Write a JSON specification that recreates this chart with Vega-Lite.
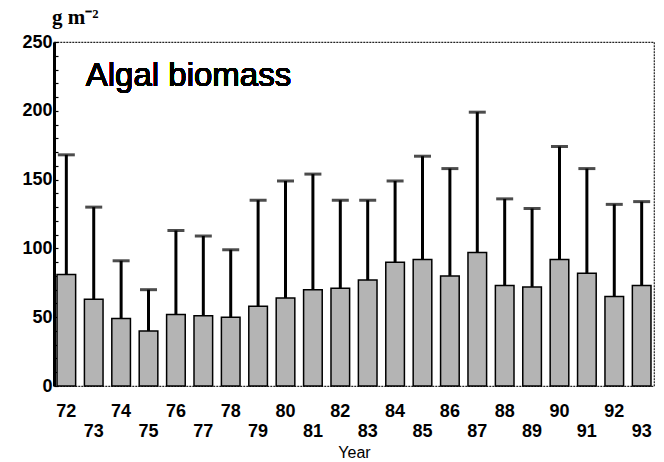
{
  "$schema": "https://vega.github.io/schema/vega-lite/v6.json",
  "width": 600,
  "height": 344,
  "autosize": "none",
  "padding": {"left": 54, "top": 42, "right": 10, "bottom": 76},
  "background": "white",
  "title": {"text": "g  m⁻²", "anchor": "start", "frame": "group", "font": "Liberation Serif", "fontSize": 21, "fontWeight": "bold", "offset": 5, "dx": -2, "color": "black"},
  "config": {
    "view": {"stroke": "#222", "strokeWidth": 1.2, "strokeDash": [2, 1]},
    "axisY": {
      "labelOverlap": false,
      "grid": false,
      "tickSize": -4,
      "tickWidth": 1.2,
      "tickColor": "black",
      "domainColor": "black",
      "domainWidth": 3,
      "labelFont": "Liberation Sans",
      "labelFontSize": 18,
      "labelFontWeight": "bold",
      "labelColor": "black",
      "labelPadding": 6,
      "title": null,
      "zindex": 1,
      "labelExpr": "datum.value % 50 == 0 ? datum.label : ''"
    }
  },
  "data": {"values": [
    {"year": 72, "mean": 81, "upper": 168},
    {"year": 73, "mean": 63, "upper": 130},
    {"year": 74, "mean": 49, "upper": 91},
    {"year": 75, "mean": 40, "upper": 70},
    {"year": 76, "mean": 52, "upper": 113},
    {"year": 77, "mean": 51, "upper": 109},
    {"year": 78, "mean": 50, "upper": 99},
    {"year": 79, "mean": 58, "upper": 135},
    {"year": 80, "mean": 64, "upper": 149},
    {"year": 81, "mean": 70, "upper": 154},
    {"year": 82, "mean": 71, "upper": 135},
    {"year": 83, "mean": 77, "upper": 135},
    {"year": 84, "mean": 90, "upper": 149},
    {"year": 85, "mean": 92, "upper": 167},
    {"year": 86, "mean": 80, "upper": 158},
    {"year": 87, "mean": 97, "upper": 199},
    {"year": 88, "mean": 73, "upper": 136},
    {"year": 89, "mean": 72, "upper": 129},
    {"year": 90, "mean": 92, "upper": 174},
    {"year": 91, "mean": 82, "upper": 158},
    {"year": 92, "mean": 65, "upper": 132},
    {"year": 93, "mean": 73, "upper": 134}
  ]},
  "encoding": {
    "x": {
      "field": "year",
      "type": "ordinal",
      "scale": {"paddingInner": 0.32, "paddingOuter": 0.11},
      "axis": {
        "title": "Year",
        "titleFont": "Liberation Sans",
        "titleFontSize": 16,
        "titleFontWeight": "normal",
        "titlePadding": 4,
        "labelAngle": 0,
        "labelFont": "Liberation Sans",
        "labelFontSize": 18,
        "labelFontWeight": "bold",
        "labelBaseline": "top",
        "labelPadding": 16,
        "labelLineHeight": 20,
        "labelExpr": "toNumber(datum.value) % 2 == 1 ? ['', datum.label] : datum.label",
        "ticks": false,
        "domain": false,
        "labelColor": "black",
        "titleColor": "black"
      }
    }
  },
  "layer": [
    {
      "mark": {"type": "bar", "fill": "#b4b4b4", "stroke": "black", "strokeWidth": 1.5},
      "encoding": {
        "y": {
          "field": "mean",
          "type": "quantitative",
          "scale": {"domain": [0, 250], "nice": false},
          "axis": {"values": [0, 10, 20, 30, 40, 50, 60, 70, 80, 90, 100, 110, 120, 130, 140, 150, 160, 170, 180, 190, 200, 210, 220, 230, 240, 250]}
        }
      }
    },
    {
      "mark": {"type": "rule", "strokeWidth": 3, "color": "black"},
      "encoding": {
        "y": {"field": "mean", "type": "quantitative", "axis": {"values": [0, 10, 20, 30, 40, 50, 60, 70, 80, 90, 100, 110, 120, 130, 140, 150, 160, 170, 180, 190, 200, 210, 220, 230, 240, 250]}},
        "y2": {"field": "upper"}
      }
    },
    {
      "mark": {"type": "tick", "thickness": 3, "size": 17, "color": "black"},
      "encoding": {
        "y": {"field": "upper", "type": "quantitative", "axis": {"values": [0, 10, 20, 30, 40, 50, 60, 70, 80, 90, 100, 110, 120, 130, 140, 150, 160, 170, 180, 190, 200, 210, 220, 230, 240, 250]}}
      }
    },
    {
      "mark": {"type": "text", "align": "left", "baseline": "middle", "fontSize": 33, "font": "Liberation Sans", "dx": -8, "color": "black"},
      "encoding": {
        "x": {"datum": 73},
        "y": {"datum": 225, "type": "quantitative", "axis": {"values": [0, 10, 20, 30, 40, 50, 60, 70, 80, 90, 100, 110, 120, 130, 140, 150, 160, 170, 180, 190, 200, 210, 220, 230, 240, 250]}},
        "text": {"value": "Algal biomass"}
      }
    }
  ]
}
